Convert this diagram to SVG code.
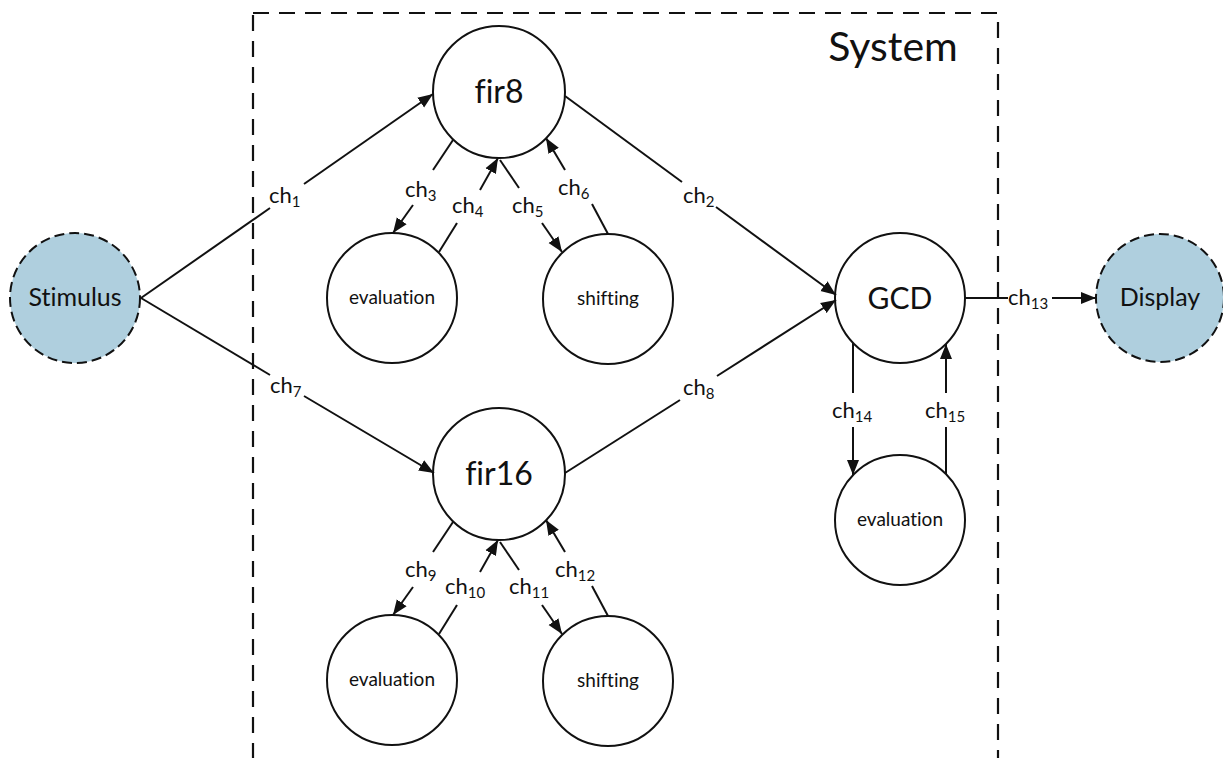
<svg xmlns="http://www.w3.org/2000/svg" width="1223" height="758" viewBox="0 0 1223 758">
  <style>
    text { font-family: Lato, "Liberation Sans", sans-serif; fill: #111; font-variant-ligatures: none; }
    .node { fill: #fff; stroke: #111; stroke-width: 2; }
    .env { fill: #afcfde; stroke: #111; stroke-width: 2; stroke-dasharray: 10 5; }
    .boundary { fill: none; stroke: #111; stroke-width: 2.2; stroke-dasharray: 16 10; }
    .big { font-size: 32px; text-anchor: middle; }
    .mid { font-size: 25px; text-anchor: middle; }
    .small { font-size: 19px; text-anchor: middle; }
    .lbl { font-size: 22px; }
    .lbl tspan { font-size: 15px; }
    .wire { fill: none; stroke: #111; stroke-width: 2; }
    .arrow { marker-end: url(#head); }
  </style>
  <defs>
    <marker id="head" markerUnits="userSpaceOnUse" markerWidth="16" markerHeight="13" refX="15" refY="6.5" orient="auto">
      <path d="M0,0.5 L15,6.5 L0,12.5 z" fill="#111"/>
    </marker>
  </defs>

  <!-- system boundary -->
  <g id="system">
    <rect class="boundary" x="253" y="13" width="745" height="746"/>
    <text x="893" y="61" style="font-size:41px;text-anchor:middle">System</text>
  </g>

  <!-- environment nodes -->
  <g id="stimulus">
    <circle class="env" cx="75" cy="298" r="65"/>
    <text class="mid" x="75" y="306">Stimulus</text>
  </g>
  <g id="display">
    <circle class="env" cx="1160" cy="298" r="64"/>
    <text class="mid" x="1160" y="306">Display</text>
  </g>

  <!-- processes inside the system -->
  <g id="fir8">
    <circle class="node" cx="499" cy="92" r="66"/>
    <text class="big" x="499" y="103">fir8</text>
  </g>
  <g id="fir8-evaluation">
    <circle class="node" cx="392" cy="298" r="65"/>
    <text class="small" x="392" y="304">evaluation</text>
  </g>
  <g id="fir8-shifting">
    <circle class="node" cx="608" cy="299" r="65"/>
    <text class="small" x="608" y="305">shifting</text>
  </g>
  <g id="fir16">
    <circle class="node" cx="499" cy="474" r="66"/>
    <text class="big" x="499" y="485">fir16</text>
  </g>
  <g id="fir16-evaluation">
    <circle class="node" cx="392" cy="680" r="65"/>
    <text class="small" x="392" y="686">evaluation</text>
  </g>
  <g id="fir16-shifting">
    <circle class="node" cx="608" cy="681" r="65"/>
    <text class="small" x="608" y="687">shifting</text>
  </g>
  <g id="gcd">
    <circle class="node" cx="900" cy="298" r="65"/>
    <text class="big" x="900" y="309" style="font-size:30px">GCD</text>
  </g>
  <g id="gcd-evaluation">
    <circle class="node" cx="900" cy="520" r="65"/>
    <text class="small" x="900" y="526">evaluation</text>
  </g>

  <!-- channels -->
  <g id="connectors">
    <!-- ch1 / ch7 from Stimulus -->
    <line class="wire" x1="141" y1="298" x2="270" y2="208"/>
    <line class="wire arrow" x1="304" y1="184" x2="433" y2="94"/>
    <text class="lbl" x="269" y="203">ch<tspan dy="4">1</tspan></text>

    <line class="wire" x1="141" y1="298" x2="270" y2="375"/>
    <line class="wire arrow" x1="304" y1="396" x2="434" y2="473"/>
    <text class="lbl" x="270" y="393">ch<tspan dy="4">7</tspan></text>

    <!-- ch2 / ch8 into GCD -->
    <line class="wire" x1="565" y1="96" x2="682" y2="182"/>
    <line class="wire arrow" x1="716" y1="207" x2="836" y2="295"/>
    <text class="lbl" x="683" y="203">ch<tspan dy="4">2</tspan></text>

    <line class="wire" x1="565" y1="473" x2="680" y2="400"/>
    <line class="wire arrow" x1="717" y1="376" x2="836" y2="300"/>
    <text class="lbl" x="683" y="395">ch<tspan dy="4">8</tspan></text>

    <!-- ch13 to Display -->
    <line class="wire" x1="965" y1="298" x2="1008" y2="298"/>
    <line class="wire arrow" x1="1052" y1="298" x2="1096" y2="298"/>
    <text class="lbl" x="1008" y="305">ch<tspan dy="4">13</tspan></text>

    <!-- fir8 internal channels -->
    <line class="wire" x1="453" y1="140" x2="433" y2="170"/>
    <line class="wire arrow" x1="413" y1="205" x2="393" y2="233"/>
    <text class="lbl" x="405" y="197">ch<tspan dy="4">3</tspan></text>

    <line class="wire" x1="439" y1="252" x2="457" y2="223"/>
    <line class="wire arrow" x1="480" y1="190" x2="498" y2="158"/>
    <text class="lbl" x="452" y="213">ch<tspan dy="4">4</tspan></text>

    <line class="wire" x1="500" y1="160" x2="519" y2="188"/>
    <line class="wire arrow" x1="542" y1="223" x2="562" y2="252"/>
    <text class="lbl" x="512" y="213">ch<tspan dy="4">5</tspan></text>

    <line class="wire" x1="608" y1="234" x2="592" y2="204"/>
    <line class="wire arrow" x1="565" y1="170" x2="546" y2="138"/>
    <text class="lbl" x="558" y="195">ch<tspan dy="4">6</tspan></text>

    <!-- fir16 internal channels -->
    <line class="wire" x1="453" y1="522" x2="433" y2="552"/>
    <line class="wire arrow" x1="413" y1="587" x2="393" y2="615"/>
    <text class="lbl" x="405" y="577">ch<tspan dy="4">9</tspan></text>

    <line class="wire" x1="439" y1="634" x2="457" y2="605"/>
    <line class="wire arrow" x1="480" y1="572" x2="498" y2="540"/>
    <text class="lbl" x="445" y="594">ch<tspan dy="4">10</tspan></text>

    <line class="wire" x1="500" y1="542" x2="519" y2="570"/>
    <line class="wire arrow" x1="542" y1="605" x2="562" y2="634"/>
    <text class="lbl" x="509" y="594">ch<tspan dy="4">11</tspan></text>

    <line class="wire" x1="608" y1="616" x2="592" y2="586"/>
    <line class="wire arrow" x1="565" y1="552" x2="546" y2="520"/>
    <text class="lbl" x="555" y="577">ch<tspan dy="4">12</tspan></text>

    <!-- GCD internal channels -->
    <line class="wire" x1="853" y1="343" x2="853" y2="393"/>
    <line class="wire arrow" x1="853" y1="427" x2="853" y2="475"/>
    <text class="lbl" x="832" y="418">ch<tspan dy="4">14</tspan></text>

    <line class="wire" x1="946" y1="474" x2="946" y2="427"/>
    <line class="wire arrow" x1="946" y1="393" x2="946" y2="344"/>
    <text class="lbl" x="925" y="418">ch<tspan dy="4">15</tspan></text>
  </g>
</svg>
